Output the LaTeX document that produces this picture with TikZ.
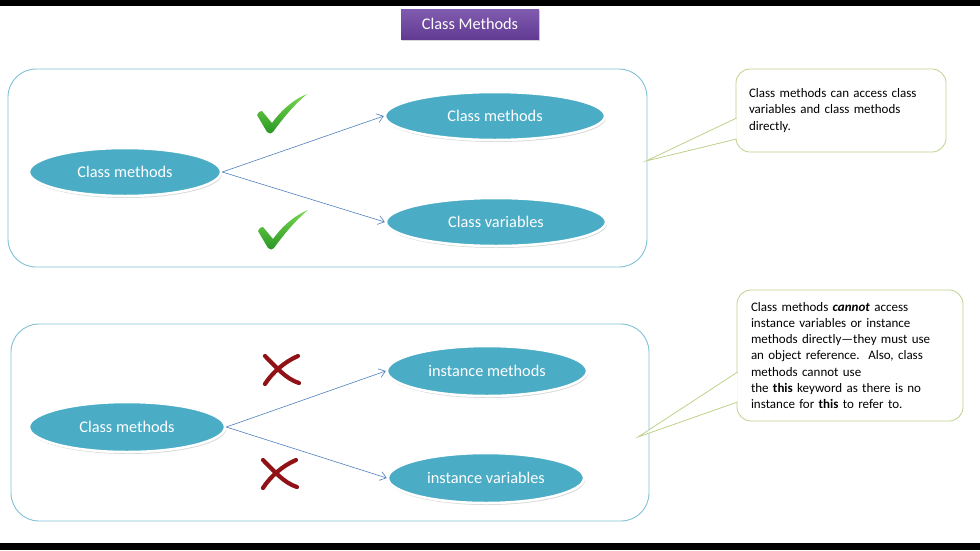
\documentclass[tikz,border=0pt]{standalone}
\usepackage{fontspec}
\setmainfont{Carlito}
\usepackage{tikz}
\usetikzlibrary{positioning,arrows.meta,calc,shapes.geometric,shadows}
\definecolor{framebl}{RGB}{128,193,212}
\definecolor{ovalfill}{RGB}{75,172,198}
\definecolor{arrowbl}{RGB}{79,129,189}
\definecolor{notegr}{RGB}{190,210,140}
\definecolor{tickhi}{RGB}{120,215,80}
\definecolor{ticklo}{RGB}{40,150,35}
\definecolor{crossred}{RGB}{145,18,22}
\definecolor{purplehi}{RGB}{128,92,176}
\definecolor{purplelo}{RGB}{98,58,146}

\begin{document}
\begin{tikzpicture}[x=1pt,y=-1pt,
  every node/.style={font=\fontsize{16.3}{19}\selectfont},
  frame/.style={draw=framebl,line width=0.9pt,rounded corners=28pt},
  oval/.style={ellipse,fill=ovalfill,draw=white,line width=2.5pt,text=white,inner sep=0pt,
    drop shadow={opacity=0.3,shadow xshift=1pt,shadow yshift=-2pt}},
  titlebox/.style={top color=purplehi,bottom color=purplelo,text=white,minimum width=138pt,minimum height=30pt,
    drop shadow={opacity=0.3,shadow xshift=1pt,shadow yshift=-2pt}},
  arrow/.style={-{Straight Barb[length=6pt,width=9pt]},draw=arrowbl,line width=0.6pt},
  note/.style={draw=notegr,line width=0.8pt,rounded corners=14pt,fill=white,align=left,
    font=\fontsize{13}{16.3}\selectfont},
  pointer/.style={draw=notegr,line width=0.8pt,fill=white},
  tick/.pic={
    \path[top color=tickhi,bottom color=ticklo]
      (0,21) .. controls (1,18) and (3,17) .. (5,17) -- (15,29)
      .. controls (26,14) and (38,5) .. (50,0)
      .. controls (38,10) and (26,24) .. (16,38)
      .. controls (15,40) and (12,40) .. (10,38) -- cycle;
  },
  cross/.pic={
    \draw[crossred,line width=4.2pt,line cap=round]
      (36,3) .. controls (22,9) and (10,20) .. (3,31);
    \draw[crossred,line width=4.2pt,line cap=round]
      (3,3) .. controls (14,14) and (24,26) .. (37,30);
  }
]
  \useasboundingbox[fill=white] (0,0) rectangle (980,550);
  \fill[black] (0,0) rectangle (980,6);
  \fill[black] (0,543) rectangle (980,550);

  \node[titlebox] (title) at (470,24) {Class Methods};

  % class members
  \node[frame,minimum width=639pt,minimum height=198pt] (top) at (327.5,168) {};
  \node[oval,minimum width=192pt,minimum height=48pt] (cm1) at (125,172) {Class methods};
  \node[oval,minimum width=220pt,minimum height=48pt] (cmeth) at (495,116) {Class methods};
  \node[oval,minimum width=220pt,minimum height=48pt] (cvar) at (496,222) {Class variables};
  \draw[arrow] (cm1.east) -- (cmeth.west);
  \draw[arrow] (cm1.east) -- (cvar.west);
  \pic at (257,94) {tick};
  \pic at (258,210) {tick};

  % instance members
  \node[frame,minimum width=638pt,minimum height=197pt] (bottom) at (330,422.5) {};
  \node[oval,minimum width=196pt,minimum height=50pt] (cm2) at (127,427) {Class methods};
  \node[oval,minimum width=200pt,minimum height=50pt] (imeth) at (487,371) {instance methods};
  \node[oval,minimum width=196pt,minimum height=50pt] (ivar) at (486,478) {instance variables};
  \draw[arrow] (cm2.east) -- (imeth.west);
  \draw[arrow] (cm2.east) -- (ivar.west);
  \pic at (262,353) {cross};
  \pic at (260,457) {cross};

  % callouts
  \node[note,text width=184pt,inner xsep=13pt,minimum height=83pt] (note1) at (841,110.5)
    {Class methods can access class\\variables and class methods\\directly.};
  \coordinate (tip1) at (646,161);
  \draw[pointer] ($(note1.west)+(1,7.5)$) -- (tip1) -- ($(note1.west)+(1,28.5)$);

  \node[note,text width=198pt,inner xsep=14pt,minimum height=131pt] (note2) at (850,355.5)
    {Class methods \textbf{\textit{cannot}} access\\instance variables or instance\\methods directly---they must use\\an object reference.\ \ Also, class\\methods cannot use\\the \textbf{this} keyword as there is no\\instance for \textbf{this} to refer to.};
  \coordinate (tip2) at (638,437);
  \draw[pointer] ($(note2.west)+(1,16.5)$) -- (tip2) -- ($(note2.west)+(1,46.5)$);
\end{tikzpicture}
\end{document}
